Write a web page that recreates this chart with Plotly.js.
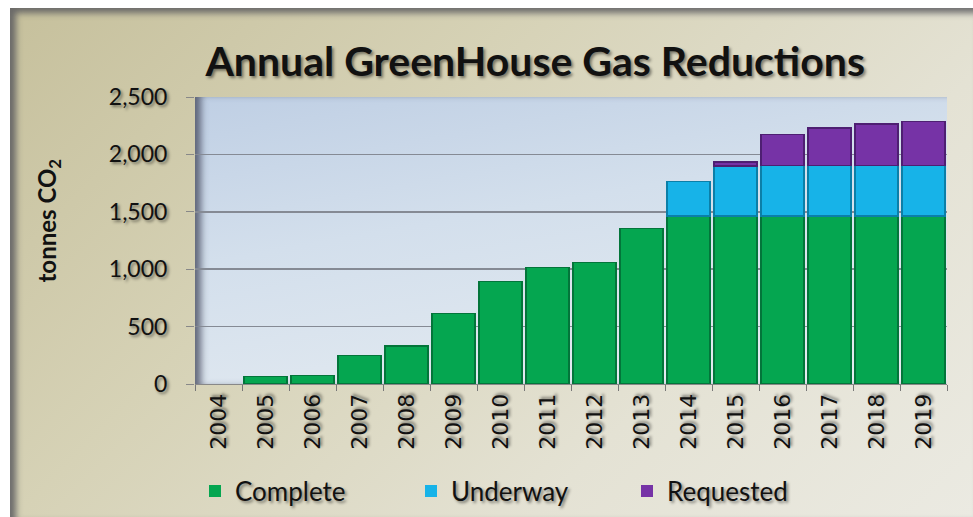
<!DOCTYPE html>
<html>
<head>
<meta charset="utf-8">
<script src="https://cdn.plot.ly/plotly-3.0.1.min.js"></script>
<style>
  html, body { margin:0; padding:0; width:973px; height:517px; background:#ffffff; overflow:hidden; }
  #frame { position:absolute; left:10px; top:8px; width:963px; height:509px;
    background: linear-gradient(135deg, #c6c09c 0%, #d6d2b6 35%, #e4e2d4 70%, #ebeae2 100%);
    box-shadow: inset 6px 5px 6px rgba(90,90,95,0.85); }
  #plotbg { position:absolute; left:195px; top:97px; width:752px; height:287px;
    background: linear-gradient(170deg, #bfcfe4 0%, #d3dfec 40%, #e7edf2 100%);
    box-shadow: inset 9px 0px 7px -3px rgba(70,75,95,0.8); }
  #chart { position:absolute; left:0; top:0; width:973px; height:517px; }
</style>
</head>
<body>
<div id="frame"></div>
<div id="plotbg"></div>
<div id="chart"></div>
<script>
const years = ['2004','2005','2006','2007','2008','2009','2010','2011','2012','2013','2014','2015','2016','2017','2018','2019'];
const complete  = [0, 65, 72, 250, 331, 616, 891, 1013, 1057, 1356, 1463, 1463, 1463, 1463, 1463, 1463];
const underway  = [0, 0, 0, 0, 0, 0, 0, 0, 0, 0, 300, 437, 440, 440, 440, 440];
const requested = [0, 0, 0, 0, 0, 0, 0, 0, 0, 0, 0, 32, 270, 328, 363, 383];
const yTicks = [0, 500, 1000, 1500, 2000, 2500];
const yTickText = ['0', '500', '1,000', '1,500', '2,000', '2,500'];

const shadow = '2px 2px 3px rgba(0,0,0,0.45)';

function mk(name, vals, color, edge) {
  return {
    type: 'bar', name: name, x: years, y: vals,
    marker: { color: color, line: { color: edge, width: vals.map(v => v > 0 ? 1.5 : 0) } },
    hoverinfo: 'x+y+name'
  };
}

const data = [
  mk('Complete', complete, '#05a650', '#03753a'),
  mk('Underway', underway, '#17b3e8', '#0b7fa8'),
  mk('Requested', requested, '#7633a6', '#4e1f72')
];

const layout = {
  width: 973, height: 517,
  paper_bgcolor: 'rgba(0,0,0,0)',
  plot_bgcolor: 'rgba(0,0,0,0)',
  barmode: 'stack',
  bargap: 0.09,
  margin: { l: 195, r: 26, t: 97, b: 133, autoexpand: false },
  title: {
    text: '<b>Annual GreenHouse Gas Reductions</b>',
    font: { family: 'Lato, "Open Sans", sans-serif', size: 41, color: '#111111', shadow: shadow },
    x: 0.55, xanchor: 'center', y: 0.88, yanchor: 'middle'
  },
  xaxis: {
    type: 'category',
    automargin: false,
    tickangle: -90,
    tickfont: { family: '"DejaVu Sans", sans-serif', size: 22, color: '#111111', shadow: shadow },
    ticks: 'outside', ticklen: 6, tickcolor: '#777777',
    tickson: 'boundaries',
    showline: true, linecolor: '#888888', linewidth: 1,
    showgrid: false, zeroline: false
  },
  yaxis: {
    automargin: false,
    range: [0, 2500],
    tickvals: yTicks, ticktext: yTickText,
    tickfont: { family: 'Lato, sans-serif', size: 23, color: '#111111', shadow: shadow },
    ticks: 'outside', ticklen: 8, tickcolor: '#888888',
    ticklabelstandoff: 14,
    showgrid: true, gridcolor: '#858a94', gridwidth: 1.5,
    showline: false, zeroline: false
  },
  annotations: [{
    text: '<b>tonnes CO<sub>2</sub></b>',
    xref: 'paper', yref: 'paper',
    x: -0.195, y: 0.571, xanchor: 'center', yanchor: 'middle',
    textangle: -90, showarrow: false,
    font: { family: 'Lato, sans-serif', size: 24, color: '#111111' }
  }],
  showlegend: true,
  legend: {
    orientation: 'h',
    x: 0.0, xanchor: 'left',
    y: -0.373, yanchor: 'middle',
    font: { family: 'Lato, sans-serif', size: 26, color: '#111111', shadow: shadow },
    entrywidth: 171, entrywidthmode: 'pixels',
    itemwidth: 30,
    bgcolor: 'rgba(0,0,0,0)',
    traceorder: 'normal'
  }
};

Plotly.newPlot('chart', data, layout, { displayModeBar: false, staticPlot: true });
</script>
</body>
</html>
